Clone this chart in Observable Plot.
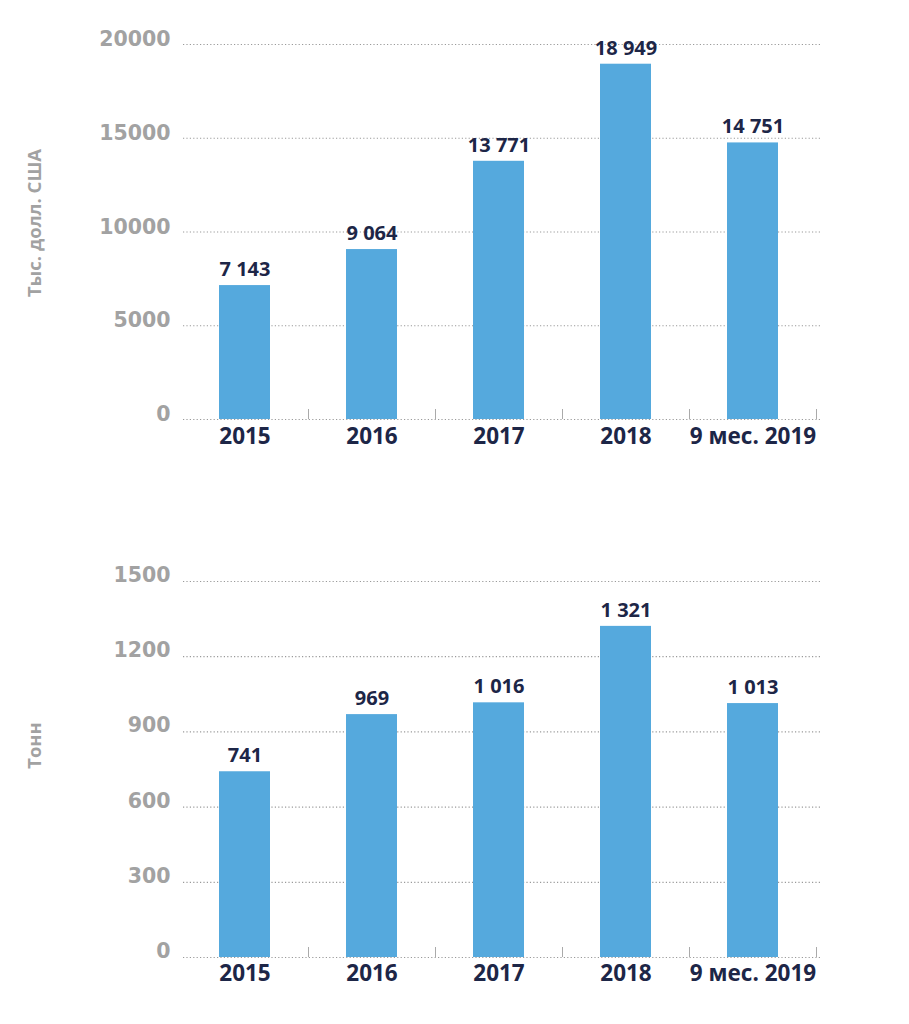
<!DOCTYPE html>
<html>
<head>
<meta charset="utf-8">
<script src="https://cdn.jsdelivr.net/npm/d3@7"></script>
<script src="https://cdn.jsdelivr.net/npm/@observablehq/plot@0.6"></script>
<style>
  html, body { margin: 0; padding: 0; background: #fff; }
  #chart { width: 909px; }
  #chart svg { display: block; }
</style>
</head>
<body>
<div id="chart"></div>
<script>
// ---- data ----
const categories = ["2015", "2016", "2017", "2018", "9 мес. 2019"];
const valueUsd = [7143, 9064, 13771, 18949, 14751];
const valueTons = [741, 969, 1016, 1321, 1013];
const usdTicks = [0, 5000, 10000, 15000, 20000];
const tonTicks = [0, 300, 600, 900, 1200, 1500];
const usdLabel = "Тыс. долл. США";
const tonLabel = "Тонн";

// ---- styles ----
const barColor = "#55a9dd";
const navy = "#1d2647";
const gray = "#a2a2a2";
const gridColor = "#9a9a9a";
const fmt = d => d3.format(",")(d).replace(/,/g, " ");

function chart(values, ticks, label, opts) {
  const data = categories.map((c, i) => ({cat: c, v: values[i]}));
  return Plot.plot({
    width: 909,
    height: opts.height,
    marginLeft: 181,
    marginRight: 93,
    marginTop: opts.marginTop,
    marginBottom: opts.marginBottom,
    style: {fontFamily: "'Open Sans', sans-serif", background: "white", overflow: "visible"},
    x: {domain: categories, padding: 0, axis: null},
    y: {domain: [ticks[0], ticks[ticks.length - 1]], axis: null},
    marks: [
      Plot.ruleY(ticks, {y: d => d, stroke: gridColor, strokeWidth: 1.2, strokeDasharray: "1.2,2.2", insetLeft: 2, insetRight: -6}),
      Plot.ruleX(categories, {x: d => d, y1: 0, y2: 0, dx: 63.5, insetTop: -10, stroke: "#aaa", strokeWidth: 1}),
      Plot.barY(data, {x: "cat", y: "v", fill: barColor, insetLeft: 38, insetRight: 38}),
      Plot.text(data, {x: "cat", y: "v", text: d => fmt(d.v), dy: -16, fill: navy, fontSize: 20, fontWeight: "bold", letterSpacing: 1.1}),
      Plot.text(categories, {x: d => d, y: 0, text: d => d, dy: opts.xdy, fill: navy, fontSize: 22.5, fontWeight: "bold", letterSpacing: 1}),
      Plot.text(ticks, {y: d => d, frameAnchor: "left", text: d => String(d), textAnchor: "end", dx: -11, dy: opts.ydy, fill: gray, fontSize: 20.5, fontWeight: "bold", fontFamily: "'DejaVu Sans', sans-serif"}),
      Plot.text([label], {frameAnchor: "left", text: d => d, rotate: -90, textAnchor: "middle", dx: -146, dy: opts.labelDy, fill: gray, fontSize: 18.5, fontWeight: "bold", letterSpacing: 1.4})
    ]
  });
}

const root = document.getElementById("chart");
root.appendChild(chart(valueUsd, usdTicks, usdLabel, {height: 500, marginTop: 44, marginBottom: 81, xdy: 17, ydy: -5, labelDy: -9}));
root.appendChild(chart(valueTons, tonTicks, tonLabel, {height: 524, marginTop: 81, marginBottom: 67, xdy: 16, ydy: -6, labelDy: -24}));
</script>
</body>
</html>
